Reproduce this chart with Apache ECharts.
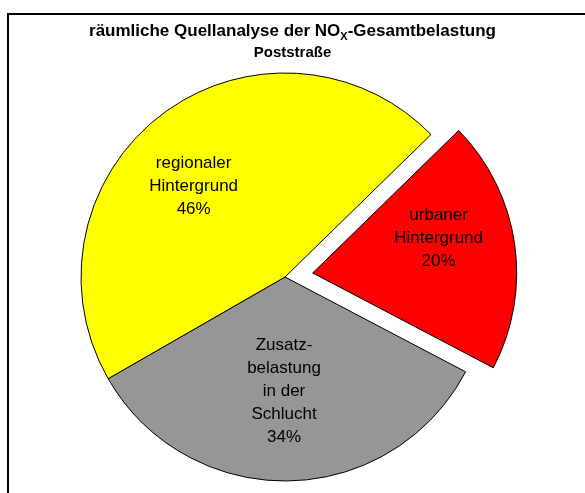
<!DOCTYPE html>
<html>
<head>
<meta charset="utf-8">
<script src="https://cdn.jsdelivr.net/npm/echarts@6/dist/echarts.min.js"></script>
<style>
  html, body { margin: 0; padding: 0; background: #fff; }
  #chartmain { width: 585px; height: 493px; }
</style>
</head>
<body>
<div id="chartmain"></div>
<script>
// Anteile in Prozent (Reihenfolge im Uhrzeigersinn ab Start)
var nameList = ['urbaner\nHintergrund', 'Zusatz-\nbelastung\nin der\nSchlucht', 'regionaler\nHintergrund'];
var valueList = [20, 34, 46];
var colorList = ['#ff0000', '#969696', '#ffff00'];
var explodedList = [true, false, false];

// Label-Verschiebung gegenüber der Standardposition (px)
var labelShift = [[22, -19], [-3, 9], [-28, -7]];

var chart = echarts.init(document.getElementById('chartmain'));

var pieData = [];
for (var i = 0; i < nameList.length; i++) {
    pieData.push({
        name: nameList[i],
        value: valueList[i],
        selected: explodedList[i],
        itemStyle: { color: colorList[i] },
        select: { itemStyle: { color: colorList[i], borderColor: '#000', borderWidth: 1 } }
    });
}

chart.setOption({
    animation: false,
    backgroundColor: '#fff',
    title: {
        text: '{t|räumliche Quellanalyse der NO}{s|X}{t|-Gesamtbelastung}\n{p|Poststraße}',
        left: 'center',
        top: 21,
        padding: 0,
        textStyle: {
            fontFamily: 'Liberation Sans',
            rich: {
                t: { fontSize: 17, fontWeight: 'bold', color: '#000', lineHeight: 21, fontFamily: 'Liberation Sans' },
                s: { fontSize: 11, fontWeight: 'bold', color: '#000', lineHeight: 12, verticalAlign: 'bottom', fontFamily: 'Liberation Sans' },
                p: { fontSize: 15, fontWeight: 'bold', color: '#000', lineHeight: 21, fontFamily: 'Liberation Sans' }
            }
        }
    },
    graphic: [{
        type: 'rect',
        z: -1,
        shape: { x: 8, y: 14, width: 640, height: 540 },
        style: { fill: 'none', stroke: '#000', lineWidth: 2 },
        silent: true
    }],
    series: [{
        type: 'pie',
        center: [285, 277],
        radius: 204,
        startAngle: 44.3,
        clockwise: true,
        selectedMode: 'single',
        selectedOffset: 28,
        emphasis: { disabled: true },
        itemStyle: { borderColor: '#000', borderWidth: 1 },
        label: {
            show: true,
            position: 'inside',
            color: '#000',
            fontFamily: 'Liberation Sans',
            fontSize: 17,
            lineHeight: 23,
            align: 'center',
            formatter: function (p) {
                return p.name + '\n' + Math.round(p.percent) + '%';
            }
        },
        labelLine: { show: false },
        labelLayout: function (p) {
            var s = labelShift[p.dataIndex];
            return { dx: s[0], dy: s[1] };
        },
        data: pieData
    }]
});
</script>
</body>
</html>
